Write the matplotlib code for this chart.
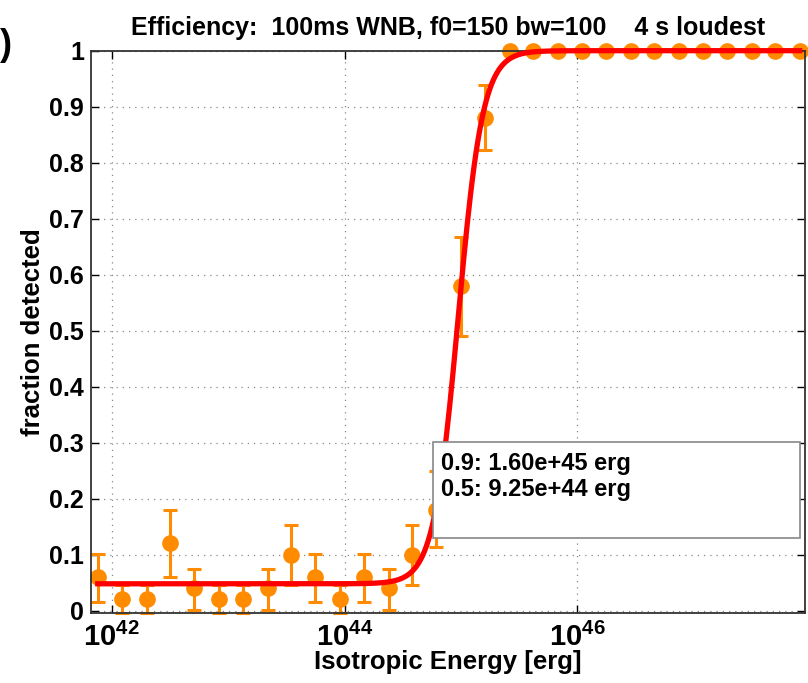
import numpy as np
import matplotlib
matplotlib.use("Agg")
import matplotlib.pyplot as plt
from matplotlib.patches import Rectangle

plt.rcParams["font.family"] = ["Liberation Sans", "DejaVu Sans"]
plt.rcParams["font.weight"] = "bold"
plt.rcParams["mathtext.fontset"] = "custom"
plt.rcParams["mathtext.rm"] = "Liberation Sans:bold"
plt.rcParams["mathtext.bf"] = "Liberation Sans:bold"

# log10 of injected isotropic energy [erg]
log_energy = [41.88, 42.09, 42.30, 42.50, 42.71, 42.92, 43.13, 43.34, 43.54, 43.75,
              43.96, 44.17, 44.38, 44.58, 44.79, 45.00, 45.21, 45.42, 45.62, 45.83,
              46.04, 46.25, 46.46, 46.66, 46.87, 47.08, 47.29, 47.50, 47.70, 47.91]
frac = [0.06, 0.02, 0.02, 0.12, 0.04, 0.02, 0.02, 0.04, 0.10, 0.06,
        0.02, 0.06, 0.04, 0.10, 0.18, 0.58, 0.88, 1, 1, 1,
        1, 1, 1, 1, 1, 1, 1, 1, 1, 1]
err_lo = [0.045, 0.025, 0.025, 0.06, 0.039, 0.025, 0.025, 0.039, 0.055, 0.045,
          0.025, 0.045, 0.039, 0.055, 0.067, 0.09, 0.058, 0, 0, 0,
          0, 0, 0, 0, 0, 0, 0, 0, 0, 0]
err_hi = [0.041, 0.025, 0.025, 0.06, 0.035, 0.025, 0.025, 0.035, 0.053, 0.041,
          0.025, 0.041, 0.035, 0.053, 0.07, 0.088, 0.058, 0, 0, 0,
          0, 0, 0, 0, 0, 0, 0, 0, 0, 0]

# fit summary (from legend)
e90 = 1.60e45
e50 = 9.25e44
baseline = 0.048

yticks = [0, 0.1, 0.2, 0.3, 0.4, 0.5, 0.6, 0.7, 0.8, 0.9, 1]
ytick_labels = ["0", "0.1", "0.2", "0.3", "0.4", "0.5", "0.6", "0.7", "0.8", "0.9", "1"]
xticks = [1e42, 1e44, 1e46]
xtick_labels = [r"$\mathbf{10^{42}}$", r"$\mathbf{10^{44}}$", r"$\mathbf{10^{46}}$"]

energy = 10 ** np.array(log_energy)

# logistic fit in log energy through the 50% / 90% points
def logit(p):
    g = (p - baseline) / (1 - baseline)
    return np.log(g / (1 - g))

s = (np.log10(e90) - np.log10(e50)) / (logit(0.9) - logit(0.5))
x0 = np.log10(e50) - logit(0.5) * s
xfit = np.linspace(log_energy[0], log_energy[-1], 400)
yfit = baseline + (1 - baseline) / (1 + np.exp(-(xfit - x0) / s))

fig = plt.figure(figsize=(8.08, 6.83), dpi=100)
ax = fig.add_axes([0.1126, 0.1018, 0.8837, 0.824])

orange = "#ff8c00"
eb = ax.errorbar(energy, frac, yerr=[err_lo, err_hi], fmt="o", color=orange,
                 ecolor=orange, markersize=11, elinewidth=2.2, capsize=5,
                 capthick=2.2, zorder=2)
for artist in eb.lines[0:1] + tuple(eb.lines[1]) + tuple(eb.lines[2]):
    artist.set_clip_on(False)
ax.plot(10 ** xfit, yfit, color="#ff0000", linewidth=3.8, zorder=3, clip_on=False)

ax.set_xscale("log")
ax.set_xlim(10 ** 41.822, 10 ** 47.956)
ax.set_ylim(-0.005, 1.0)
ax.set_xticks(xticks)
ax.set_xticklabels(xtick_labels)
ax.xaxis.set_minor_locator(matplotlib.ticker.NullLocator())
ax.set_yticks(yticks)
ax.set_yticklabels(ytick_labels)
ax.tick_params(direction="in", top=True, right=True, length=6, width=1,
               labelsize=18, pad=5)
ax.tick_params(axis="x", labelsize=21, pad=7)
ax.grid(True, linestyle=(0, (1, 4)), color="#888888", linewidth=0.9)
for sp in ax.spines.values():
    sp.set_linewidth(1.3)
    sp.set_color("#333333")

ax.set_title("Efficiency:  100ms WNB, f0=150 bw=100    4 s loudest",
             fontsize=18, fontweight="bold", pad=11)
ax.set_xlabel("Isotropic Energy [erg]", fontsize=18.5, fontweight="bold", labelpad=-2)
ax.set_ylabel("fraction detected", fontsize=18.5, fontweight="bold", labelpad=3)

# legend box with fit results
fig.patches.append(Rectangle((0.5355, 0.2127), 0.4545, 0.1406, transform=fig.transFigure,
                             facecolor="white", edgecolor="#888888", linewidth=1.2,
                             zorder=5))
fig.text(0.5454, 0.3217, "0.9: 1.60e+45 erg", fontsize=17, fontweight="bold",
         va="center", ha="left", zorder=6)
fig.text(0.5454, 0.2826, "0.5: 9.25e+44 erg", fontsize=17, fontweight="bold",
         va="center", ha="left", zorder=6)

# panel label (only its closing bracket is inside the frame)
fig.text(0.0, 0.933, ")", fontsize=26, fontweight="bold", ha="left", va="center")

fig.savefig("out.png", dpi=100)
